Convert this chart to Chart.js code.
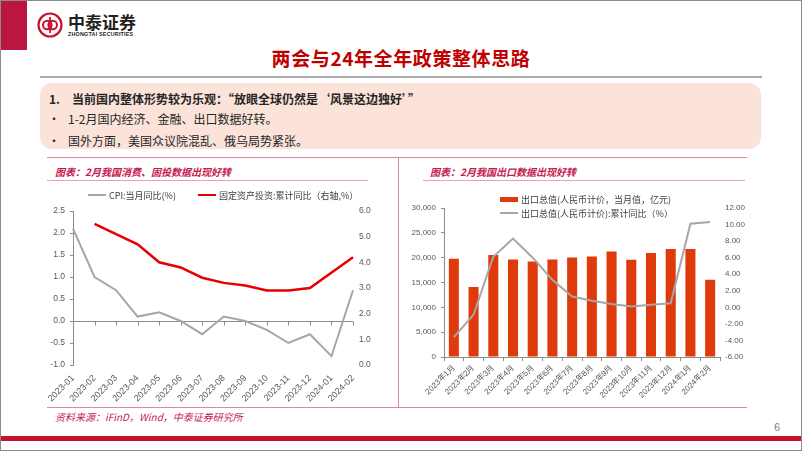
<!DOCTYPE html>
<html lang="zh-CN">
<head>
<meta charset="UTF-8">
<title>两会与24年全年政策整体思路</title>
<script src="https://cdn.jsdelivr.net/npm/chart.js"></script>
<style>
    body { margin: 0; background: #fff; font-family: "Noto Sans CJK SC", sans-serif; }
    .slide { position: relative; width: 802px; height: 451px; overflow: hidden; background: #fff; }
    .abs { position: absolute; }
    .frame { position: absolute; left: 0; top: 0; right: 0; bottom: 0; border: 1px solid #8c8c8c; pointer-events: none; }
    .brand { left: 68px; top: 12px; font-size: 17px; line-height: 20px; font-weight: 700; color: #231f20; }
    .brand-en { left: 68px; top: 31px; font-family: "Liberation Sans", Arial, sans-serif; font-size: 5.4px; font-weight: 700; color: #231f20; letter-spacing: 0.2px; }
    .title { left: 0; width: 802px; top: 46px; text-align: center; font-size: 19px; line-height: 24px; font-weight: 700; color: #c00000; letter-spacing: 0.6px; }
    .box { left: 40px; top: 83px; width: 721px; height: 66px; background: #fbe3da; border-radius: 12px; }
    .txt { font-size: 12px; line-height: 16px; color: #262626; white-space: nowrap; }
    .chart-title { font-size: 10px; line-height: 14px; font-weight: 700; font-style: italic; color: #c41a50; white-space: nowrap; }
    .pink { background: #d98aa0; }
    .legend { font-size: 9px; color: #404040; white-space: nowrap; }
    .legend .item { display: flex; align-items: center; height: 14px; }
    .legend .sw { display: inline-block; width: 18px; margin-right: 3px; }
</style>
</head>
<body>
<div class="slide">
    <!-- header -->
    <div class="abs" style="left:0;top:0;width:27px;height:50px;background:#bb1540;"></div>
    <svg class="abs" style="left:37px;top:12px" width="26" height="26" viewBox="0 0 26 26">
        <circle cx="13" cy="13" r="11.5" fill="none" stroke="#c8102e" stroke-width="2.2"/>
        <circle cx="10.3" cy="13" r="4.3" fill="none" stroke="#c8102e" stroke-width="2"/>
        <circle cx="15.7" cy="13" r="4.3" fill="none" stroke="#c8102e" stroke-width="2"/>
        <line x1="13" y1="5" x2="13" y2="21" stroke="#c8102e" stroke-width="1.8"/>
    </svg>
    <div class="abs brand">中泰证券</div>
    <div class="abs brand-en">ZHONGTAI SECURITIES</div>

    <div class="abs title">两会与24年全年政策整体思路</div>
    <div class="abs" style="left:40px;top:76px;width:722px;height:2px;background:#aaaaaa;"></div>

    <!-- summary box -->
    <div class="abs box"></div>
    <div class="abs txt" style="left:49px;top:91px;font-weight:700;">1.</div>
    <div class="abs txt" style="left:72px;top:91px;font-weight:700;">当前国内整体形势较为乐观：“放眼全球仍然是‘风景这边独好’”</div>
    <div class="abs txt" style="left:48px;top:111px;">•</div>
    <div class="abs txt" style="left:68px;top:111px;">1-2月国内经济、金融、出口数据好转。</div>
    <div class="abs txt" style="left:48px;top:133px;">•</div>
    <div class="abs txt" style="left:68px;top:133px;">国外方面，美国众议院混乱、俄乌局势紧张。</div>

    <!-- chart frame -->
    <div class="abs pink" style="left:47px;top:157px;width:700px;height:1px;"></div>
    <div class="abs pink" style="left:47px;top:407px;width:700px;height:1px;"></div>
    <div class="abs pink" style="left:398px;top:157px;width:1px;height:251px;"></div>

    <div class="abs chart-title" style="left:55px;top:165px;">图表：2月我国消费、固投数据出现好转</div>
    <div class="abs" style="left:47px;top:180px;width:321px;height:1px;background:#e4a2b4;"></div>
    <div class="abs chart-title" style="left:430px;top:165px;">图表：2月我国出口数据出现好转</div>
    <div class="abs" style="left:423px;top:180px;width:322px;height:1px;background:#e4a2b4;"></div>

    <div class="abs" style="left:40px;top:186px;width:358px;height:222px;"><canvas id="cpiChart"></canvas></div>
    <div class="abs" style="left:400px;top:186px;width:352px;height:222px;"><canvas id="exportChart"></canvas></div>
    <div class="abs legend" id="cpiLegend" style="left:88px;top:188px;display:flex;gap:22px;"></div>
    <div class="abs legend" id="exportLegend" style="left:500px;top:192px;"></div>

    <div class="abs chart-title" style="left:55px;top:410px;font-weight:400;">资料来源：iFinD，Wind，中泰证券研究所</div>

    <!-- footer -->
    <div class="abs" style="left:774px;top:421px;font-family:'Liberation Sans',Arial,sans-serif;font-size:11px;color:#7f7f7f;">6</div>
    <div class="abs" style="left:0;top:436px;width:802px;height:5px;background:#c5102f;"></div>
    <div class="frame"></div>
</div>

<script>
    // ---- data: left chart ----
    const cpiMonths = ['2023-01', '2023-02', '2023-03', '2023-04', '2023-05', '2023-06', '2023-07',
                       '2023-08', '2023-09', '2023-10', '2023-11', '2023-12', '2024-01', '2024-02'];
    const cpiYoY = [2.1, 1.0, 0.7, 0.1, 0.2, 0.0, -0.3, 0.1, 0.0, -0.2, -0.5, -0.3, -0.8, 0.7];
    const faiCumYoY = [null, 5.5, 5.1, 4.7, 4.0, 3.8, 3.4, 3.2, 3.1, 2.9, 2.9, 3.0, null, 4.2];
    const cpiAxis = { min: -1, max: 2.5, step: 0.5 };
    const faiAxis = { min: 0, max: 6, step: 1 };

    // ---- data: right chart ----
    const exportMonths = ['2023年1月', '2023年2月', '2023年3月', '2023年4月', '2023年5月', '2023年6月', '2023年7月',
                          '2023年8月', '2023年9月', '2023年10月', '2023年11月', '2023年12月', '2024年1月', '2024年2月'];
    const exportValue = [19800, 14100, 20550, 19650, 19250, 19650, 20050, 20250, 21250, 19600, 20950, 21750, 21750, 15550];
    const exportCumYoY = [-3.6, -0.9, 6.1, 8.3, 6.0, 3.3, 1.3, 0.8, 0.4, 0.1, 0.3, 0.5, 10.1, 10.3];
    const valueAxis = { min: 0, max: 30000, step: 5000 };
    const yoyAxis = { min: -6, max: 12, step: 2 };

    Chart.defaults.font.family = '"Liberation Sans", Arial, sans-serif';
    Chart.defaults.font.size = 9;
    Chart.defaults.color = '#595959';
    Chart.defaults.animation = false;

    const AXIS = '#8c8c8c';
    const small = { size: 8 };

    // zero line with small tick marks (left chart's x axis sits at 0)
    const zeroAxis = {
        id: 'zeroAxis',
        beforeDatasetsDraw(chart) {
            const xs = chart.scales.x, ys = chart.scales.y, area = chart.chartArea;
            const y0 = Math.round(ys.getPixelForValue(0)) + 0.5;
            const ctx = chart.ctx;
            ctx.save();
            ctx.strokeStyle = AXIS;
            ctx.lineWidth = 1;
            ctx.beginPath();
            ctx.moveTo(area.left, y0);
            ctx.lineTo(area.right, y0);
            xs.ticks.forEach((t, i) => {
                const px = Math.round(xs.getPixelForTick(i)) + 0.5;
                ctx.moveTo(px, y0);
                ctx.lineTo(px, y0 + 4);
            });
            ctx.stroke();
            ctx.restore();
        }
    };

    const cpiChart = new Chart(document.getElementById('cpiChart'), {
        type: 'line',
        data: {
            labels: cpiMonths,
            datasets: [{
                label: 'CPI:当月同比(%)',
                data: cpiYoY,
                yAxisID: 'y',
                borderColor: '#a6a6a6',
                borderWidth: 2,
                pointRadius: 0
            }, {
                label: '固定资产投资:累计同比（右轴,%）',
                data: faiCumYoY,
                yAxisID: 'y1',
                borderColor: '#e60000',
                borderWidth: 2.5,
                pointRadius: 0,
                spanGaps: true
            }]
        },
        options: {
            responsive: true,
            maintainAspectRatio: false,
            layout: { padding: { top: 25 } },
            plugins: { legend: { display: false }, tooltip: { enabled: false } },
            scales: {
                x: {
                    offset: false,
                    grid: { display: false, drawTicks: false },
                    border: { display: false },
                    ticks: { minRotation: 45, maxRotation: 45, autoSkip: false, padding: 8 },
                    afterFit: s => { s.height = 43; }
                },
                y: {
                    position: 'left',
                    min: cpiAxis.min, max: cpiAxis.max,
                    ticks: { stepSize: cpiAxis.step, callback: v => v.toFixed(1), padding: 5, font: { size: 8.5 } },
                    grid: { drawOnChartArea: false, tickLength: 3, color: AXIS },
                    border: { color: AXIS },
                    afterFit: s => { s.width = 33; }
                },
                y1: {
                    position: 'right',
                    min: faiAxis.min, max: faiAxis.max,
                    ticks: { stepSize: faiAxis.step, callback: v => v.toFixed(1), padding: 6, font: { size: 8.5 } },
                    grid: { display: false, drawTicks: false },
                    border: { display: false },
                    afterFit: s => { s.width = 45; }
                }
            }
        },
        plugins: [zeroAxis]
    });

    const exportChart = new Chart(document.getElementById('exportChart'), {
        type: 'bar',
        data: {
            labels: exportMonths,
            datasets: [{
                type: 'bar',
                label: '出口总值(人民币计价，当月值，亿元)',
                data: exportValue,
                yAxisID: 'y',
                backgroundColor: '#df3a0c',
                categoryPercentage: 1,
                barPercentage: 0.51,
                order: 2
            }, {
                type: 'line',
                label: '出口总值(人民币计价):累计同比（%）',
                data: exportCumYoY,
                yAxisID: 'y1',
                borderColor: '#a6a6a6',
                borderWidth: 2,
                pointRadius: 0,
                order: 1
            }]
        },
        options: {
            responsive: true,
            maintainAspectRatio: false,
            layout: { padding: { top: 22 } },
            plugins: { legend: { display: false }, tooltip: { enabled: false } },
            scales: {
                x: {
                    grid: { offset: true, drawOnChartArea: false, tickLength: 4, color: AXIS },
                    border: { color: AXIS },
                    ticks: { minRotation: 45, maxRotation: 45, autoSkip: false, padding: 2, font: small },
                    afterFit: s => { s.height = 51; }
                },
                y: {
                    position: 'left',
                    min: valueAxis.min, max: valueAxis.max,
                    ticks: { stepSize: valueAxis.step, callback: v => v.toLocaleString('en-US'), padding: 5, font: small },
                    grid: { drawOnChartArea: false, tickLength: 3, color: AXIS },
                    border: { color: AXIS },
                    afterFit: s => { s.width = 44; }
                },
                y1: {
                    position: 'right',
                    min: yoyAxis.min, max: yoyAxis.max,
                    ticks: { stepSize: yoyAxis.step, callback: v => v.toFixed(2), padding: 5, font: small },
                    grid: { display: false, drawTicks: false },
                    border: { display: false },
                    afterFit: s => { s.width = 32; }
                }
            }
        }
    });

    // html legends built from the datasets
    function buildLegend(chart, el) {
        chart.data.datasets.forEach(ds => {
            const item = document.createElement('div');
            item.className = 'item';
            const sw = document.createElement('span');
            sw.className = 'sw';
            if (ds.type === 'bar') {
                sw.style.height = '5px';
                sw.style.background = ds.backgroundColor;
            } else {
                sw.style.height = ds.borderWidth + 'px';
                sw.style.background = ds.borderColor;
            }
            item.appendChild(sw);
            item.appendChild(document.createTextNode(ds.label));
            el.appendChild(item);
        });
    }
    buildLegend(cpiChart, document.getElementById('cpiLegend'));
    buildLegend(exportChart, document.getElementById('exportLegend'));
</script>
</body>
</html>
